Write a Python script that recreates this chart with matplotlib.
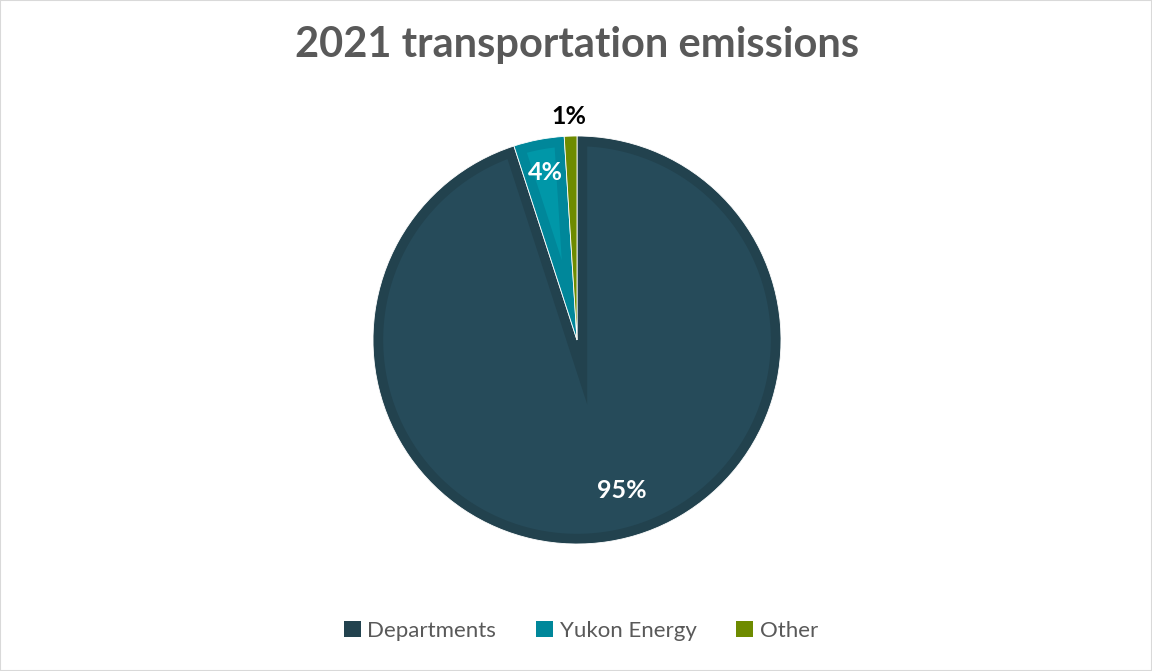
import numpy as np
import matplotlib
matplotlib.use("Agg")
import matplotlib.pyplot as plt
from matplotlib.patches import Polygon, Rectangle

# Data
categories = ["Departments", "Yukon Energy", "Other"]
shares = [95, 4, 1]
labels = ["95%", "4%", "1%"]

edge_colors = ["#22424E", "#00879A", "#6E8B00"]
face_colors = ["#264B5A", "#0097A8", "#6E8B00"]

plt.rcParams["font.family"] = ["Lato", "DejaVu Sans"]

fig = plt.figure(figsize=(11.52, 6.71), dpi=100)
fig.patches.append(Rectangle((0, 0), 1, 1, transform=fig.transFigure,
                             fill=False, edgecolor="#D9D9D9", linewidth=1.5))

R = 1.0
ax = fig.add_axes([(577 - 204) / 1152, (671 - 544) / 671, 408 / 1152, 408 / 671])

wedges, _ = ax.pie(shares, startangle=90, counterclock=False, radius=R,
                   colors=edge_colors,
                   wedgeprops=dict(edgecolor="white", linewidth=0.6))
ax.set_xlim(-R, R)
ax.set_ylim(-R, R)
ax.set_aspect("equal")
ax.axis("off")

# Bevel: lighter inner region inset from each wedge's border
d = 0.05
total = sum(shares)
start = 90.0
for val, fc in zip(shares, face_colors):
    sweep = 360.0 * val / total
    a1 = np.radians(start)            # first edge (clockwise from here)
    a2 = np.radians(start - sweep)    # second edge
    start -= sweep
    half = np.radians(sweep) / 2
    mid = a1 - half
    # corner of the inset region lies on the bisector line
    P = (d / np.sin(half)) * np.array([np.cos(mid), np.sin(mid)])
    Ri = R - d
    if np.linalg.norm(P) >= Ri:
        continue

    def hit(angle):
        u = np.array([np.cos(angle), np.sin(angle)])
        b = P @ u
        c = P @ P - Ri ** 2
        t = -b + np.sqrt(b * b - c)
        return P + t * u

    p1, p2 = hit(a1), hit(a2)
    t1 = np.arctan2(p1[1], p1[0])
    t2 = np.arctan2(p2[1], p2[0])
    while t2 > t1:
        t2 -= 2 * np.pi
    arc = np.linspace(t1, t2, 400)
    pts = [P] + [np.array([Ri * np.cos(t), Ri * np.sin(t)]) for t in arc] + [P]
    ax.add_patch(Polygon(np.array(pts), closed=True, facecolor=fc,
                         edgecolor="none", zorder=3))

# Value labels
ax.text((622 - 577) / 204, -(491 - 340) / 204, labels[0], color="white",
        fontsize=18, fontweight="bold", ha="center", va="center", zorder=5)
ax.text((545 - 577) / 204, -(172 - 340) / 204, labels[1], color="white",
        fontsize=18, fontweight="bold", ha="center", va="center", zorder=5)
ax.text((569 - 577) / 204, -(116 - 340) / 204, labels[2], color="black",
        fontsize=18, fontweight="bold", ha="center", va="center", zorder=5,
        clip_on=False)

fig.text(577 / 1152, 1 - 45 / 671, "2021 transportation emissions",
         ha="center", va="center", fontsize=30, fontweight="bold", color="#595959")

leg = fig.legend(wedges, categories, loc="center", bbox_to_anchor=(581 / 1152, 1 - 631 / 671),
                 ncol=3, frameon=False, fontsize=16, labelcolor="#595959",
                 handlelength=0.75, handleheight=0.75, handletextpad=0.3,
                 columnspacing=1.8)
for h in leg.legend_handles:
    h.set_edgecolor("none")

fig.savefig("out.png", dpi=100, facecolor="white")
